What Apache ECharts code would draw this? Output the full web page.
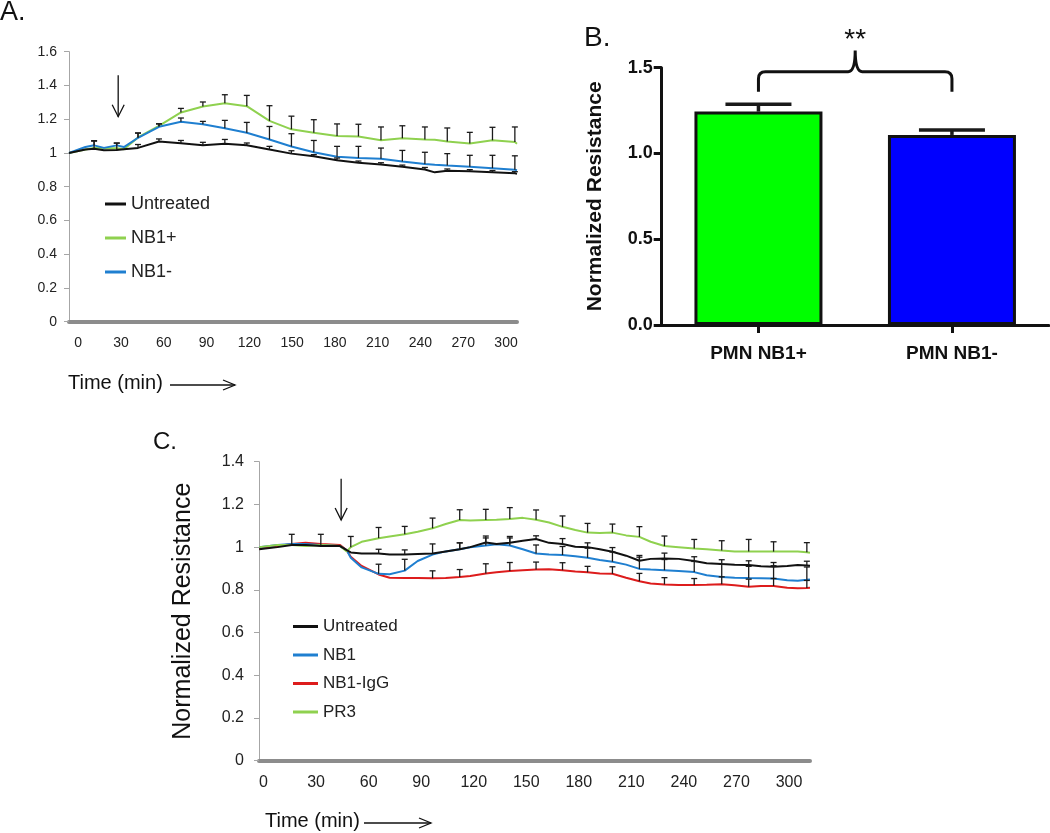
<!DOCTYPE html>
<html>
<head>
<meta charset="utf-8">
<script src="https://cdn.jsdelivr.net/npm/echarts@6/dist/echarts.min.js"></script>
<style>
html, body { margin: 0; padding: 0; background: #fff; }
#chart { width: 1050px; height: 833px; }
</style>
</head>
<body>
<div id="chart"></div>
<script>
// ---- panel A: resistance over time, NB1+ / NB1- PMN
var timeA = [-6.5, 5, 11.1, 18, 27.0, 32, 41.9, 56.6, 72.0, 87.4, 102.8, 118.2, 134.1, 149.5, 165.2, 181.5, 196.5, 212.3, 227.3, 243.1, 250, 258.8, 274.6, 290.5, 306.2, 307.7];
var untreatedA = [1.0, 1.02, 1.025, 1.016, 1.018, 1.022, 1.03, 1.068, 1.057, 1.045, 1.055, 1.045, 1.02, 0.996, 0.98, 0.957, 0.942, 0.932, 0.918, 0.902, 0.885, 0.895, 0.891, 0.886, 0.879, 0.877];
var nb1PlusA = [1.0, 1.02, 1.03, 1.028, 1.028, 1.022, 1.092, 1.16, 1.24, 1.275, 1.295, 1.277, 1.19, 1.14, 1.12, 1.10, 1.098, 1.075, 1.087, 1.08, 1.078, 1.068, 1.056, 1.075, 1.065, 1.055];
var nb1MinusA = [1.0, 1.035, 1.045, 1.03, 1.045, 1.035, 1.09, 1.155, 1.185, 1.17, 1.146, 1.12, 1.08, 1.038, 1.004, 0.977, 0.97, 0.965, 0.95, 0.935, 0.93, 0.925, 0.918, 0.91, 0.9, 0.897];

// error bars (upper SEM) at these time points
var errTimesA = [11.1, 27.0, 41.9, 56.6, 72.0, 87.4, 102.8, 118.2, 134.1, 149.5, 165.2, 181.5, 196.5, 212.3, 227.3, 243.1, 258.8, 274.6, 290.5, 306.2];
var untreatedSemA = [0.045, 0.04, 0.02, 0.015, 0.017, 0.018, 0.025, 0.014, 0.019, 0.017, 0.01, 0.013, 0.01, 0.01, 0.01, 0.012, 0.01, 0.01, 0.01, 0.01];
var nb1PlusSemA = [null, null, 0.026, 0.012, 0.024, 0.027, 0.05, 0.064, 0.09, 0.078, 0.077, 0.072, 0.072, 0.079, 0.074, 0.074, 0.08, 0.066, 0.077, 0.089];
var nb1MinusSemA = [0.028, 0.014, 0.028, 0.018, 0.022, 0.017, 0.047, 0.061, 0.077, 0.076, 0.07, 0.062, 0.069, 0.064, 0.065, 0.069, 0.071, 0.068, 0.076, 0.083];
var arrowA = [28, 1.46, 1.215];

// ---- panel B: mean normalized resistance
var groupsB = ['PMN NB1+', 'PMN NB1-'];
var meanB = [1.244, 1.108];
var semB = [0.043, 0.029];
var bracketB = [1.36, 1.477, 1.60];   // leg bottom, bar level, peak
var sigB = '**';

// ---- panel C: NB1 / NB1-IgG / PR3
var timeC = [-2.5, 8, 16.1, 24, 32.7, 43.7, 47.5, 49.8, 56, 65.7, 72, 80.6, 88, 96.5, 104, 112, 118, 126.9, 133, 140.6, 148, 155.6, 163, 170.7, 178, 185, 192, 199.2, 207, 214.6, 221, 228.9, 237, 245.9, 253, 261.6, 269, 277, 284, 291.2, 299, 305, 310.2, 312];
var untreatedC = [0.99, 1.0, 1.01, 1.01, 1.005, 1.005, 0.986, 0.975, 0.97, 0.97, 0.965, 0.965, 0.968, 0.97, 0.98, 0.99, 1.0, 1.022, 1.015, 1.02, 1.03, 1.038, 1.02, 1.015, 1.002, 1.0, 0.99, 0.978, 0.96, 0.936, 0.945, 0.947, 0.945, 0.935, 0.925, 0.921, 0.918, 0.916, 0.91, 0.908, 0.912, 0.916, 0.914, 0.913];
var nb1C = [1.0, 1.01, 1.015, 1.015, 1.01, 1.005, 0.985, 0.95, 0.905, 0.875, 0.873, 0.89, 0.935, 0.965, 0.98, 0.99, 0.999, 1.008, 1.013, 1.008, 0.99, 0.97, 0.965, 0.963, 0.957, 0.95, 0.94, 0.932, 0.918, 0.898, 0.895, 0.892, 0.888, 0.883, 0.868, 0.86, 0.857, 0.855, 0.854, 0.853, 0.845, 0.843, 0.847, 0.849];
var nb1IgGC = [0.995, 1.005, 1.015, 1.02, 1.015, 1.01, 0.985, 0.955, 0.912, 0.872, 0.857, 0.855, 0.855, 0.854, 0.855, 0.86, 0.865, 0.877, 0.882, 0.888, 0.892, 0.895, 0.896, 0.892, 0.886, 0.882, 0.877, 0.875, 0.857, 0.84, 0.83, 0.825, 0.823, 0.823, 0.824, 0.826, 0.822, 0.815, 0.818, 0.818, 0.81, 0.807, 0.809, 0.81];
var pr3C = [1.0, 1.01, 1.01, 1.005, 1.01, 1.005, 0.98, 1.0, 1.025, 1.042, 1.05, 1.06, 1.072, 1.088, 1.108, 1.127, 1.125, 1.127, 1.128, 1.132, 1.137, 1.128, 1.115, 1.095, 1.08, 1.068, 1.066, 1.068, 1.055, 1.048, 1.025, 1.005, 1.0, 0.994, 0.99, 0.984, 0.98, 0.979, 0.98, 0.979, 0.979, 0.979, 0.976, 0.974];

var errTimesC = [16.1, 32.7, 49.8, 65.7, 80.6, 96.5, 112, 126.9, 140.6, 155.6, 170.7, 185, 199.2, 214.6, 228.9, 245.9, 261.6, 277, 291.2, 310.2];
var untreatedSemC = [0.05, 0.055, null, 0.02, 0.022, 0.045, 0.03, 0.03, 0.03, 0.015, 0.025, 0.02, 0.02, 0.025, 0.025, 0.02, 0.02, 0.02, 0.02, 0.02];
var nb1SemC = [null, null, null, 0.045, 0.053, null, 0.03, 0.035, 0.035, 0.04, 0.04, 0.045, 0.045, 0.055, 0.05, 0.05, 0.06, 0.055, 0.06, 0.06];
var nb1IgGSemC = [null, null, null, null, null, 0.035, 0.035, 0.045, 0.04, 0.035, 0.035, 0.028, 0.033, 0.037, 0.032, 0.03, 0.035, 0.035, 0.035, 0.035];
var pr3SemC = [null, null, 0.05, 0.05, 0.037, 0.048, 0.048, 0.05, 0.053, 0.046, 0.051, 0.043, 0.04, 0.048, 0.047, 0.042, 0.046, 0.057, 0.046, 0.045];
var arrowC = [44.3, 1.32, 1.127];

var timeTicks = [0, 30, 60, 90, 120, 150, 180, 210, 240, 270, 300];

var FONT = 'Liberation Sans, Arial, sans-serif';
var GREEN = '#8fd14f', BLUE = '#1f7fd0', RED = '#dd1c1c', BLACK = '#111';

function pairs(times, vals) {
    return times.map(function (t, i) { return [t, vals[i]]; });
}

function errData(times, vals, errTimes, sem) {
    var out = [];
    errTimes.forEach(function (t, i) {
        if (sem[i] == null) return;
        out.push([t, vals[times.indexOf(t)], sem[i]]);
    });
    return out;
}

function errorBars(capW, lw, color) {
    return function (params, api) {
        var x = api.value(0), m = api.value(1), s = api.value(2);
        var p0 = api.coord([x, m]);
        var p1 = api.coord([x, m + s]);
        return {
            type: 'group',
            children: [
                {type: 'line', shape: {x1: p0[0], y1: p0[1], x2: p1[0], y2: p1[1]}, style: {stroke: color, lineWidth: lw}},
                {type: 'line', shape: {x1: p1[0] - capW / 2, y1: p1[1], x2: p1[0] + capW / 2, y2: p1[1]}, style: {stroke: color, lineWidth: lw}}
            ]
        };
    };
}

function arrowItem(params, api) {
    var p0 = api.coord([api.value(0), api.value(1)]);
    var p1 = api.coord([api.value(0), api.value(2)]);
    var st = {stroke: '#111', lineWidth: 1.3, fill: null};
    return {
        type: 'group',
        children: [
            {type: 'line', shape: {x1: p0[0], y1: p0[1], x2: p1[0], y2: p1[1]}, style: st},
            {type: 'polyline', shape: {points: [[p1[0] - 6, p1[1] - 12], [p1[0], p1[1]], [p1[0] + 6, p1[1] - 12]]}, style: st}
        ]
    };
}

function bracketItem(params, api) {
    var a = api.coord([0, bracketB[0]]);
    var b = api.coord([1, bracketB[0]]);
    var yh = api.coord([0, bracketB[1]])[1];
    var yp = api.coord([0, bracketB[2]])[1];
    var xm = (a[0] + b[0]) / 2, r = 7;
    var d = 'M' + a[0] + ' ' + a[1] + ' L' + a[0] + ' ' + (yh + r) +
        ' Q' + a[0] + ' ' + yh + ' ' + (a[0] + r) + ' ' + yh +
        ' L' + (xm - r) + ' ' + yh + ' Q' + xm + ' ' + yh + ' ' + xm + ' ' + yp +
        ' Q' + xm + ' ' + yh + ' ' + (xm + r) + ' ' + yh +
        ' L' + (b[0] - r) + ' ' + yh + ' Q' + b[0] + ' ' + yh + ' ' + b[0] + ' ' + (yh + r) +
        ' L' + b[0] + ' ' + b[1];
    return {
        type: 'group',
        children: [
            {type: 'path', shape: {pathData: d}, style: {stroke: '#111', lineWidth: 3, fill: null}},
            {type: 'text', style: {text: sigB, x: xm, y: yp - 10, align: 'center', verticalAlign: 'middle', font: '28px ' + FONT, fill: '#111'}}
        ]
    };
}

function timeAxis(idx, min, max, fs, margin) {
    return {
        type: 'value', gridIndex: idx, min: min, max: max,
        axisLine: {show: true, onZero: false, lineStyle: {color: '#8c8c8c', width: 4}},
        axisTick: {show: false},
        splitLine: {show: false},
        axisLabel: {customValues: timeTicks, margin: margin, color: '#222', fontSize: fs, fontFamily: FONT}
    };
}

function valueAxis(idx, max, fs, margin) {
    return {
        type: 'value', gridIndex: idx, min: 0, max: max, interval: 0.2,
        axisLine: {show: true, onZero: false, lineStyle: {color: '#a6a6a6', width: 1}},
        axisTick: {show: true, length: 5, lineStyle: {color: '#a6a6a6'}},
        splitLine: {show: false},
        axisLabel: {margin: margin, color: '#222', fontSize: fs, fontFamily: FONT}
    };
}

function line(name, x, y, times, vals, color) {
    return {
        name: name, type: 'line', xAxisIndex: x, yAxisIndex: y,
        data: pairs(times, vals), symbol: 'none', color: color,
        lineStyle: {color: color, width: 2}
    };
}

function bars(x, y, data, lw, cap) {
    return {
        type: 'custom', xAxisIndex: x, yAxisIndex: y, data: data, z: 5,
        renderItem: errorBars(cap, lw, '#1a1a1a'), clip: false, silent: true
    };
}

var myChart = echarts.init(document.getElementById('chart'), null, {renderer: 'canvas'});

var option = {
    animation: false,
    backgroundColor: '#fff',
    textStyle: {fontFamily: FONT},
    grid: [
        {left: 69, top: 51.7, width: 448, height: 270},
        {left: 661.7, top: 67.7, width: 387, height: 257.3},
        {left: 259, top: 461.7, width: 551, height: 299}
    ],
    xAxis: [
        timeAxis(0, -6.5, 307.7, 14, 14),
        {
            type: 'category', gridIndex: 1, data: groupsB,
            axisLine: {show: true, lineStyle: {color: '#111', width: 3}},
            axisTick: {show: true, alignWithLabel: true, length: 8, lineStyle: {color: '#111', width: 3}},
            axisLabel: {margin: 19, color: '#111', fontSize: 19, fontWeight: 'bold', fontFamily: FONT}
        },
        timeAxis(2, -2.6, 312, 16, 14)
    ],
    yAxis: [
        valueAxis(0, 1.6, 14, 12),
        {
            type: 'value', gridIndex: 1, min: 0, max: 1.5, interval: 0.5,
            name: 'Normalized Resistance', nameLocation: 'middle', nameGap: 56,
            nameTextStyle: {fontSize: 21, fontWeight: 'bold', color: '#111', fontFamily: FONT},
            axisLine: {show: true, lineStyle: {color: '#111', width: 3}},
            axisTick: {show: true, length: 8, lineStyle: {color: '#111', width: 3}},
            splitLine: {show: false},
            axisLabel: {margin: 9, color: '#111', fontSize: 18, fontWeight: 'bold', fontFamily: FONT,
                formatter: function (v) { return v.toFixed(1); }}
        },
        Object.assign(valueAxis(2, 1.4, 16, 15), {
            name: 'Normalized Resistance', nameLocation: 'middle', nameGap: 63,
            nameTextStyle: {fontSize: 25, color: '#111', fontFamily: FONT}
        })
    ],
    legend: [
        {
            data: ['Untreated', 'NB1+', 'NB1-'], orient: 'vertical', left: 100, top: 189,
            icon: 'rect', itemWidth: 21, itemHeight: 3, itemGap: 14, selectedMode: false,
            textStyle: {fontSize: 18, lineHeight: 20, color: '#222', fontFamily: FONT}
        },
        {
            data: ['Untreated', 'NB1', 'NB1-IgG', 'PR3'], orient: 'vertical', left: 288, top: 612.5,
            icon: 'rect', itemWidth: 25, itemHeight: 3, itemGap: 10.5, selectedMode: false,
            textStyle: {fontSize: 17, lineHeight: 18, color: '#222', fontFamily: FONT}
        }
    ],
    graphic: [
        {type: 'text', left: 0, top: -1, style: {text: 'A.', font: '27px ' + FONT, fill: '#111'}},
        {type: 'text', left: 584, top: 24, style: {text: 'B.', font: '28px ' + FONT, fill: '#111'}},
        {type: 'text', left: 153, top: 430, style: {text: 'C.', font: '24px ' + FONT, fill: '#111'}},
        {type: 'text', left: 68, top: 373, style: {text: 'Time (min)', font: '20px ' + FONT, fill: '#111'}},
        {type: 'polyline', shape: {points: [[170, 385], [235, 385]]}, style: {stroke: '#111', lineWidth: 1.3}},
        {type: 'polyline', shape: {points: [[223, 380], [235, 385], [223, 390]]}, style: {stroke: '#111', lineWidth: 1.3, fill: null}},
        {type: 'text', left: 265, top: 811, style: {text: 'Time (min)', font: '20px ' + FONT, fill: '#111'}},
        {type: 'polyline', shape: {points: [[364, 823], [431, 823]]}, style: {stroke: '#111', lineWidth: 1.3}},
        {type: 'polyline', shape: {points: [[419, 818], [431, 823], [419, 828]]}, style: {stroke: '#111', lineWidth: 1.3, fill: null}}
    ],
    series: [
        // A
        line('NB1+', 0, 0, timeA, nb1PlusA, GREEN),
        line('NB1-', 0, 0, timeA, nb1MinusA, BLUE),
        line('Untreated', 0, 0, timeA, untreatedA, BLACK),
        bars(0, 0, errData(timeA, nb1PlusA, errTimesA, nb1PlusSemA), 1.3, 6),
        bars(0, 0, errData(timeA, nb1MinusA, errTimesA, nb1MinusSemA), 1.3, 6),
        bars(0, 0, errData(timeA, untreatedA, errTimesA, untreatedSemA), 1.3, 6),
        {type: 'custom', xAxisIndex: 0, yAxisIndex: 0, data: [arrowA], renderItem: arrowItem, clip: false, silent: true},
        // B
        {
            type: 'bar', xAxisIndex: 1, yAxisIndex: 1, barWidth: 128,
            data: meanB.map(function (v, i) {
                return {value: v, itemStyle: {color: i === 0 ? '#00ff00' : '#0000ff'}};
            }),
            itemStyle: {borderColor: '#111', borderWidth: 3}
        },
        bars(1, 1, meanB.map(function (v, i) { return [i, v, semB[i]]; }), 3.5, 66),
        {type: 'custom', xAxisIndex: 1, yAxisIndex: 1, data: [[0, 0]], renderItem: bracketItem, clip: false, silent: true},
        // C
        line('NB1-IgG', 2, 2, timeC, nb1IgGC, RED),
        line('NB1', 2, 2, timeC, nb1C, BLUE),
        line('PR3', 2, 2, timeC, pr3C, GREEN),
        line('Untreated', 2, 2, timeC, untreatedC, BLACK),
        bars(2, 2, errData(timeC, pr3C, errTimesC, pr3SemC), 1.3, 6),
        bars(2, 2, errData(timeC, nb1C, errTimesC, nb1SemC), 1.3, 6),
        bars(2, 2, errData(timeC, nb1IgGC, errTimesC, nb1IgGSemC), 1.3, 6),
        bars(2, 2, errData(timeC, untreatedC, errTimesC, untreatedSemC), 1.3, 6),
        {type: 'custom', xAxisIndex: 2, yAxisIndex: 2, data: [arrowC], renderItem: arrowItem, clip: false, silent: true}
    ]
};
myChart.setOption(option);
</script>
</body>
</html>
